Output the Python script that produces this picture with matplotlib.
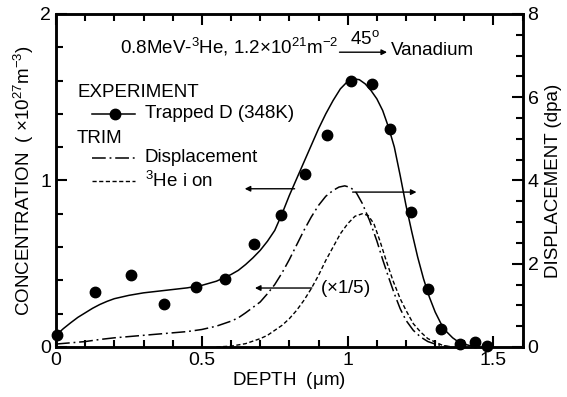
import matplotlib.pyplot as plt
from matplotlib.ticker import MultipleLocator

plt.rcParams['font.family'] = ['Liberation Sans', 'DejaVu Sans']
plt.rcParams['mathtext.fontset'] = 'custom'
plt.rcParams['mathtext.rm'] = 'Liberation Sans'
plt.rcParams['mathtext.it'] = 'Liberation Sans'
plt.rcParams['font.size'] = 13.5

# measured trapped D (left axis, 1e27 m^-3)
exp_x = [0.003, 0.134, 0.256, 0.37, 0.48, 0.58, 0.68, 0.77, 0.853, 0.93,
         1.013, 1.085, 1.145, 1.216, 1.275, 1.32, 1.384, 1.435, 1.477]
exp_y = [0.072, 0.33, 0.43, 0.26, 0.36, 0.41, 0.62, 0.79, 1.04, 1.27,
         1.60, 1.58, 1.31, 0.81, 0.35, 0.11, 0.02, 0.03, 0.005]

# guide curve through the data
fit_x = [0.0, 0.025, 0.05, 0.075, 0.1, 0.125, 0.15, 0.175, 0.2, 0.25, 0.3, 0.35,
         0.4, 0.45, 0.5, 0.55, 0.6, 0.625, 0.65, 0.675, 0.7, 0.725, 0.75, 0.775,
         0.8, 0.825, 0.85, 0.875, 0.9, 0.925, 0.95, 0.975, 1.0, 1.02, 1.04, 1.06,
         1.08, 1.1, 1.12, 1.14, 1.16, 1.18, 1.2, 1.22, 1.24, 1.26, 1.28, 1.3,
         1.32, 1.34, 1.36, 1.38, 1.4, 1.42, 1.45]
fit_y = [0.07, 0.11, 0.145, 0.178, 0.205, 0.232, 0.255, 0.274, 0.29, 0.31, 0.325,
         0.335, 0.345, 0.355, 0.37, 0.395, 0.435, 0.46, 0.495, 0.535, 0.58, 0.635,
         0.70, 0.80, 0.91, 1.01, 1.11, 1.21, 1.31, 1.40, 1.48, 1.55, 1.595, 1.61,
         1.605, 1.58, 1.54, 1.49, 1.42, 1.32, 1.20, 1.03, 0.85, 0.69, 0.54, 0.41,
         0.30, 0.21, 0.14, 0.09, 0.055, 0.03, 0.017, 0.008, 0.0]

# TRIM displacement (right axis, dpa)
dpa_x = [0.0, 0.05, 0.1, 0.15, 0.2, 0.3, 0.4, 0.45, 0.5, 0.55, 0.6, 0.625, 0.65,
         0.675, 0.7, 0.725, 0.75, 0.775, 0.8, 0.825, 0.85, 0.875, 0.9, 0.925,
         0.95, 0.97, 0.99, 1.01, 1.03, 1.05, 1.075, 1.1, 1.12, 1.14, 1.16, 1.18,
         1.2, 1.225, 1.25, 1.275, 1.3, 1.325, 1.35]
dpa_y = [0.07, 0.10, 0.13, 0.18, 0.22, 0.28, 0.34, 0.37, 0.42, 0.50, 0.62, 0.70,
         0.82, 0.95, 1.08, 1.28, 1.50, 1.78, 2.10, 2.45, 2.80, 3.12, 3.40, 3.62,
         3.76, 3.84, 3.87, 3.83, 3.70, 3.45, 3.04, 2.55, 2.10, 1.68, 1.28, 0.92,
         0.64, 0.40, 0.24, 0.13, 0.07, 0.03, 0.01]

# TRIM 3He ion (left axis, x1/5)
he_x = [0.55, 0.6, 0.65, 0.7, 0.725, 0.75, 0.775, 0.8, 0.825, 0.85, 0.875, 0.9,
        0.925, 0.95, 0.975, 1.0, 1.025, 1.05, 1.07, 1.09, 1.11, 1.13, 1.155,
        1.18, 1.2, 1.225, 1.25, 1.275, 1.3, 1.325, 1.35]
he_y = [0.0, 0.005, 0.02, 0.05, 0.07, 0.10, 0.13, 0.17, 0.22, 0.28, 0.35, 0.43,
        0.52, 0.60, 0.68, 0.74, 0.785, 0.80, 0.79, 0.74, 0.64, 0.53, 0.40, 0.29,
        0.22, 0.14, 0.09, 0.05, 0.03, 0.01, 0.0]

fig = plt.figure(figsize=(5.67, 3.97), dpi=100)
ax = fig.add_axes([0.0988, 0.126, 0.823, 0.839])
ax2 = ax.twinx()

dashdot = (0, (9, 2.5, 1.2, 2.5))
dashed = (0, (3, 1.8))

ax.plot(fit_x, fit_y, color='black', lw=1.1)
ax.plot(exp_x, exp_y, 'o', color='black', markersize=7.5, clip_on=False, zorder=5)
ax.plot(he_x, he_y, color='black', lw=1.0, linestyle=dashed)
ax2.plot(dpa_x, dpa_y, color='black', lw=1.1, linestyle=dashdot)

ax.set_xlim(0, 1.6)
ax.set_ylim(0, 2)
ax2.set_ylim(0, 8)

ax.xaxis.set_major_locator(MultipleLocator(0.5))
ax.xaxis.set_minor_locator(MultipleLocator(0.1))
ax.yaxis.set_major_locator(MultipleLocator(1))
ax.yaxis.set_minor_locator(MultipleLocator(0.2))
ax2.yaxis.set_major_locator(MultipleLocator(2))
ax2.yaxis.set_minor_locator(MultipleLocator(0.5))
ax.set_xticks([0, 0.5, 1, 1.5])
ax.set_xticklabels(['0', '0.5', '1', '1.5'])

ax.tick_params(which='both', direction='in', top=True, right=False, width=1.5)
ax.tick_params(which='major', length=8, labelsize=14)
ax.tick_params(which='minor', length=5)
ax2.tick_params(which='both', direction='in', width=1.5)
ax2.tick_params(which='major', length=8, labelsize=14)
ax2.tick_params(which='minor', length=5)
for a in (ax, ax2):
    for s in a.spines.values():
        s.set_linewidth(1.8)

ax.set_xlabel(r'DEPTH  ($\mu$m)', labelpad=1)
ax.set_ylabel(r'CONCENTRATION  ( $\times$10$^{27}$m$^{-3}$)', labelpad=3)
ax2.set_ylabel('DISPLACEMENT (dpa)', labelpad=5)

# annotations
ax.text(0.219, 1.80, r'0.8MeV-$^3$He, 1.2$\times$10$^{21}$m$^{-2}$',
        va='center', ha='left')
ax.annotate('', xy=(1.135, 1.77), xytext=(0.972, 1.77),
            arrowprops=dict(arrowstyle='-|>', color='black', lw=1.0,
                            mutation_scale=8, shrinkA=0, shrinkB=0))
ax.text(1.058, 1.85, r'45$^{\mathrm{o}}$', ha='center', va='center')
ax.text(1.147, 1.78, 'Vanadium', ha='left', va='center')

ax.text(0.072, 1.53, 'EXPERIMENT', va='center')
ax.plot([0.123, 0.27], [1.40, 1.40], color='black', lw=1.1)
ax.plot([0.202], [1.40], 'o', color='black', markersize=7.5)
ax.text(0.305, 1.40, 'Trapped D (348K)', va='center')
ax.text(0.072, 1.25, 'TRIM', va='center')
ax.plot([0.123, 0.27], [1.135, 1.135], color='black', lw=1.1, linestyle=dashdot)
ax.text(0.305, 1.135, 'Displacement', va='center')
ax.plot([0.123, 0.27], [0.997, 0.997], color='black', lw=1.0, linestyle=dashed)
ax.text(0.305, 0.997, r'$^3$He i on', va='center')

arrow = dict(arrowstyle='-|>', color='black', lw=1.0, mutation_scale=8,
             shrinkA=0, shrinkB=0)
ax.annotate('', xy=(0.647, 0.95), xytext=(0.818, 0.95), arrowprops=arrow)
ax.annotate('', xy=(1.236, 0.93), xytext=(1.017, 0.93), arrowprops=arrow)
ax.annotate('', xy=(0.682, 0.354), xytext=(0.877, 0.354), arrowprops=arrow)
ax.text(0.904, 0.354, r'($\times$1/5)', va='center')

fig.savefig('out.png', dpi=100)
